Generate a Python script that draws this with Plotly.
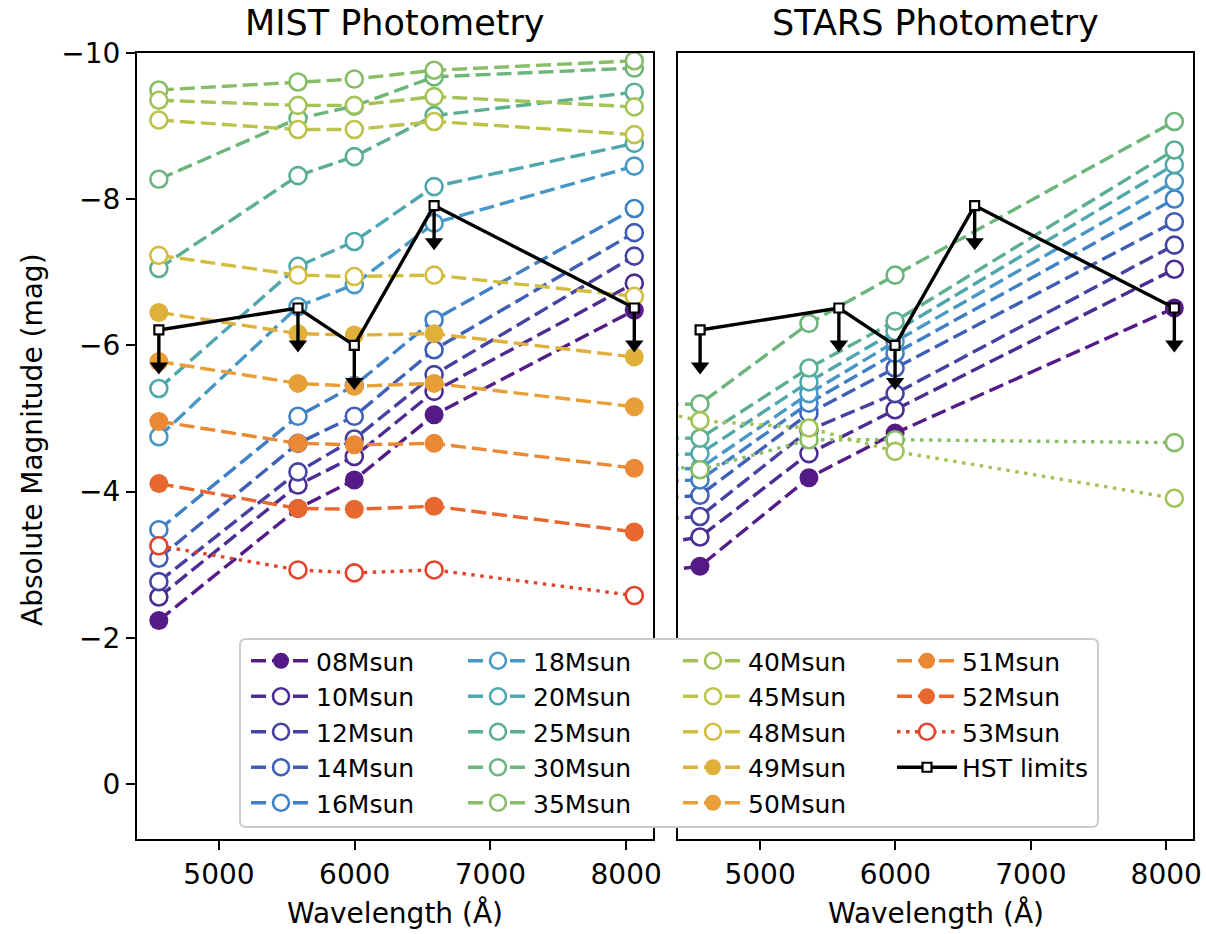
import plotly.graph_objects as go

W, H = 1206, 934

# ---------------- data ----------------
wl_mist = [4557, 5582, 5997, 6585, 8060]
wl_stars = [3360, 4556, 5361, 5997, 8060]   # first band lies left of the plotted range
wl_hst = [4557, 5582, 5997, 6585, 8060]
hst_limits = [-6.21, -6.51, -6.00, -7.91, -6.51]

mass_labels = ["08Msun", "10Msun", "12Msun", "14Msun", "16Msun", "18Msun",
               "20Msun", "25Msun", "30Msun", "35Msun", "40Msun", "45Msun",
               "48Msun", "49Msun", "50Msun", "51Msun", "52Msun", "53Msun"]

mist_08 = [-2.24, -3.77, -4.16, -5.05, -6.48]
mist_10 = [-2.56, -4.09, -4.48, -5.37, -6.85]
mist_12 = [-2.77, -4.27, -4.72, -5.60, -7.22]
mist_14 = [-3.09, -4.66, -5.03, -5.94, -7.54]
mist_16 = [-3.48, -5.03, -5.45, -6.35, -7.87]
mist_18 = [-4.75, -6.53, -6.83, -7.67, -8.45]
mist_20 = [-5.41, -7.08, -7.42, -8.17, -8.76]
mist_25 = [-7.05, -8.32, -8.58, -9.14, -9.46]
mist_30 = [-8.27, -9.10, -9.27, -9.67, -9.79]
mist_35 = [-9.49, -9.60, -9.64, -9.76, -9.89]
mist_40 = [-9.35, -9.28, -9.28, -9.40, -9.26]
mist_45 = [-9.08, -8.95, -8.95, -9.06, -8.88]
mist_48 = [-7.23, -6.96, -6.94, -6.96, -6.67]
mist_49 = [-6.45, -6.16, -6.14, -6.16, -5.84]
mist_50 = [-5.78, -5.48, -5.44, -5.48, -5.16]
mist_51 = [-4.96, -4.66, -4.64, -4.66, -4.32]
mist_52 = [-4.11, -3.77, -3.76, -3.80, -3.45]
mist_53 = [-3.26, -2.93, -2.89, -2.93, -2.58]

stars_08 = [-2.70, -2.98, -4.19, -4.80, -6.51]
stars_10 = [-3.02, -3.38, -4.52, -5.12, -7.04]
stars_12 = [-3.50, -3.66, -4.84, -5.34, -7.37]
stars_14 = [-3.78, -3.95, -5.07, -5.69, -7.69]
stars_16 = [-4.10, -4.16, -5.21, -5.89, -8.00]
stars_18 = [-4.25, -4.32, -5.34, -6.05, -8.24]
stars_20 = [-4.42, -4.52, -5.50, -6.19, -8.47]
stars_25 = [-4.75, -4.73, -5.69, -6.33, -8.67]
stars_30 = [-5.15, -5.20, -6.30, -6.96, -9.06]
stars_35 = [-4.55, -4.30, -4.71, -4.71, -4.67]
stars_40 = [-5.45, -4.97, -4.87, -4.55, -3.91]

tick_vals_y = [-10, -8, -6, -4, -2, 0]
tick_text_y = ["\u221210", "\u22128", "\u22126", "\u22124", "\u22122", "0"]
tick_vals_x = [5000, 6000, 7000, 8000]

# ---------------- style ----------------
colors = ["#541b87", "#4b2c92", "#4542a1", "#3f5fb6", "#3f80c5", "#4898c7",
          "#4fa7ae", "#5bae91", "#6cb57b", "#86bd66", "#a3c356", "#bbc349",
          "#d2bd3f", "#dfb13b", "#e89f38", "#eb8833", "#e8672e", "#e3432a"]
filled = {"08Msun", "49Msun", "50Msun", "51Msun", "52Msun"}
dotted_mist = {"53Msun"}
dotted_stars = {"35Msun", "40Msun"}

DASH = "15px,6px"
DOT = "3.5px,5.5px"
LW = 3.4
MS = 17
FONT = "DejaVu Sans"

mist_series = [mist_08, mist_10, mist_12, mist_14, mist_16, mist_18, mist_20,
               mist_25, mist_30, mist_35, mist_40, mist_45, mist_48, mist_49,
               mist_50, mist_51, mist_52, mist_53]
stars_series = {"08Msun": stars_08, "10Msun": stars_10, "12Msun": stars_12,
                "14Msun": stars_14, "16Msun": stars_16, "18Msun": stars_18,
                "20Msun": stars_20, "25Msun": stars_25, "30Msun": stars_30,
                "35Msun": stars_35, "40Msun": stars_40}

legend_of = {}
for i, lab in enumerate(mass_labels):
    col = i // 5
    legend_of[lab] = "legend" if col == 0 else "legend%d" % (col + 1)

fig = go.Figure()


def marker_for(lab, c):
    if lab in filled:
        return dict(symbol="circle", size=MS + 2, color=c, line=dict(color=c, width=0))
    return dict(symbol="circle", size=MS, color="white", line=dict(color=c, width=2.6))


for lab, c, vals in zip(mass_labels, colors, mist_series):
    fig.add_trace(go.Scatter(
        x=wl_mist, y=vals, mode="lines+markers", name=lab,
        line=dict(color=c, width=LW, dash=DOT if lab in dotted_mist else DASH),
        marker=marker_for(lab, c), legend=legend_of[lab], legendgroup=lab,
        xaxis="x", yaxis="y"))

for lab, c in zip(mass_labels, colors):
    if lab not in stars_series:
        continue
    fig.add_trace(go.Scatter(
        x=wl_stars, y=stars_series[lab], mode="lines+markers", name=lab,
        line=dict(color=c, width=LW, dash=DOT if lab in dotted_stars else DASH),
        marker=marker_for(lab, c), showlegend=False, legendgroup=lab, cliponaxis=True,
        xaxis="x2", yaxis="y2"))

ARROW = 0.5
for k, (xa, ya) in enumerate([("x", "y"), ("x2", "y2")]):
    ax, ay = [], []
    for w, m in zip(wl_hst, hst_limits):
        ax += [w, w, None]
        ay += [m, m + ARROW, None]
    fig.add_trace(go.Scatter(x=ax, y=ay, mode="lines", line=dict(color="black", width=3.4),
                             showlegend=False, hoverinfo="skip", xaxis=xa, yaxis=ya))
    fig.add_trace(go.Scatter(x=wl_hst, y=[m + ARROW for m in hst_limits], mode="markers",
                             marker=dict(symbol="triangle-down", size=16, color="black"),
                             showlegend=False, hoverinfo="skip", xaxis=xa, yaxis=ya))
    fig.add_trace(go.Scatter(
        x=wl_hst, y=hst_limits, mode="lines+markers", name="HST limits",
        line=dict(color="black", width=3.4),
        marker=dict(symbol="square", size=9, color="white", line=dict(color="black", width=2.2)),
        showlegend=(k == 0), legend="legend4", legendgroup="HST", xaxis=xa, yaxis=ya))

# ---------------- layout ----------------
xd1 = [137 / W, 653.3 / W]
xd2 = [678.3 / W, 1193.3 / W]
yd = [1 - 839.3 / H, 1 - 52.7 / H]

axis_common = dict(showline=True, mirror=True, linecolor="black", linewidth=2,
                   ticks="outside", ticklen=9, tickwidth=2, tickcolor="black",
                   showgrid=False, zeroline=False, automargin=False,
                   tickfont=dict(family=FONT, size=28, color="black"))

xr = [4396, 8200]
yr = [0.752, -10]

legend_common = dict(bgcolor="rgba(0,0,0,0)", borderwidth=0, xanchor="left", yanchor="top",
                     font=dict(family=FONT, size=25, color="black"), itemwidth=60,
                     tracegroupgap=0, traceorder="normal")
leg_y = 1 - 638 / H
leg_x = [246, 463, 678, 892]

y2_axis = dict(axis_common)
y2_axis.update(ticks="", showticklabels=False)

fig.update_layout(
    width=W, height=H, margin=dict(l=0, r=0, t=0, b=0, autoexpand=False),
    plot_bgcolor="white", paper_bgcolor="white",
    xaxis=dict(domain=xd1, range=xr, tickvals=tick_vals_x, anchor="y", **axis_common),
    xaxis2=dict(domain=xd2, range=xr, tickvals=tick_vals_x, anchor="y2", **axis_common),
    yaxis=dict(domain=yd, range=yr, tickvals=tick_vals_y, ticktext=tick_text_y, anchor="x", **axis_common),
    yaxis2=dict(domain=yd, range=yr, tickvals=tick_vals_y, anchor="x2", matches="y", **y2_axis),
    legend=dict(x=leg_x[0] / W, y=leg_y, **legend_common),
    legend2=dict(x=leg_x[1] / W, y=leg_y, **legend_common),
    legend3=dict(x=leg_x[2] / W, y=leg_y, **legend_common),
    legend4=dict(x=leg_x[3] / W, y=leg_y, **legend_common),
    showlegend=True,
)

# legend frame (rounded rectangle)
bx0, bx1, by0, by1 = 240 / W, 1098 / W, 1 - 827 / H, 1 - 639 / H
rx, ry = 6 / W, 6 / H
path = (f"M{bx0 + rx},{by1} L{bx1 - rx},{by1} Q{bx1},{by1} {bx1},{by1 - ry} "
        f"L{bx1},{by0 + ry} Q{bx1},{by0} {bx1 - rx},{by0} L{bx0 + rx},{by0} "
        f"Q{bx0},{by0} {bx0},{by0 + ry} L{bx0},{by1 - ry} Q{bx0},{by1} {bx0 + rx},{by1} Z")
fig.add_shape(type="path", path=path, xref="paper", yref="paper", layer="above",
              fillcolor="white", line=dict(color="#cccccc", width=2))

ann_font = dict(family=FONT, size=28, color="black")
cx1 = (xd1[0] + xd1[1]) / 2
cx2 = (xd2[0] + xd2[1]) / 2
fig.add_annotation(text="MIST Photometry", x=cx1, y=1 - 23 / H, xref="paper", yref="paper",
                   showarrow=False, xanchor="center", yanchor="middle",
                   font=dict(family=FONT, size=35, color="black"))
fig.add_annotation(text="STARS Photometry", x=cx2, y=1 - 23 / H, xref="paper", yref="paper",
                   showarrow=False, xanchor="center", yanchor="middle",
                   font=dict(family=FONT, size=35, color="black"))
for cx in (cx1, cx2):
    fig.add_annotation(text="Wavelength (\u00c5)", x=cx, y=1 - 913 / H, xref="paper", yref="paper",
                       showarrow=False, xanchor="center", yanchor="middle", font=ann_font)
fig.add_annotation(text="Absolute Magnitude (mag)", x=32 / W, y=1 - 440 / H, xref="paper",
                   yref="paper", showarrow=False, textangle=-90, xanchor="center",
                   yanchor="middle", font=ann_font)

fig.write_html("out.html")
